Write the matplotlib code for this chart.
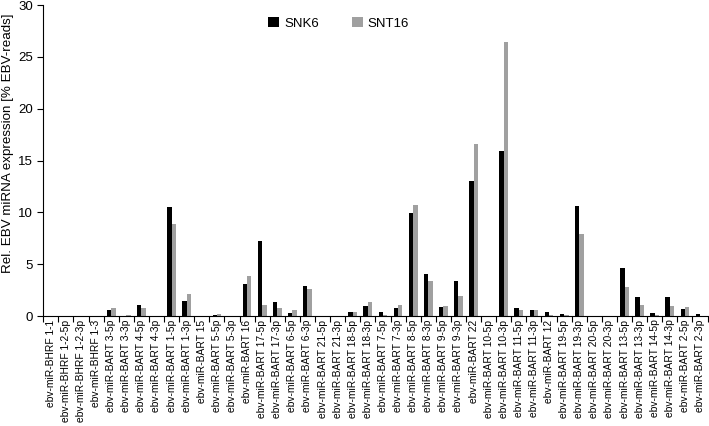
import matplotlib.pyplot as plt
import numpy as np

plt.rcParams['font.family'] = ['Liberation Sans', 'DejaVu Sans']

# miRNA names (x categories)
mirnas = ["BHRF 1-1", "BHRF 1-2-5p", "BHRF 1-2-3p", "BHRF 1-3",
          "BART 3-5p", "BART 3-3p", "BART 4-5p", "BART 4-3p",
          "BART 1-5p", "BART 1-3p", "BART 15", "BART 5-5p", "BART 5-3p",
          "BART 16", "BART 17-5p", "BART 17-3p", "BART 6-5p", "BART 6-3p",
          "BART 21-5p", "BART 21-3p", "BART 18-5p", "BART 18-3p",
          "BART 7-5p", "BART 7-3p", "BART 8-5p", "BART 8-3p",
          "BART 9-5p", "BART 9-3p", "BART 22", "BART 10-5p", "BART 10-3p",
          "BART 11-5p", "BART 11-3p", "BART 12", "BART 19-5p", "BART 19-3p",
          "BART 20-5p", "BART 20-3p", "BART 13-5p", "BART 13-3p",
          "BART 14-5p", "BART 14-3p", "BART 2-5p", "BART 2-3p"]
labels = ["ebv-miR-" + m for m in mirnas]

snk6 = [0, 0, 0, 0,
        0.58, 0, 1.03, 0.05,
        10.5, 1.5, 0, 0.1, 0,
        3.1, 7.2, 1.35, 0.32, 2.9,
        0.05, 0, 0.4, 0.96,
        0.42, 0.77, 9.9, 4.05,
        0.87, 3.4, 13.0, 0, 15.95,
        0.77, 0.55, 0.42, 0.25, 10.6,
        0, 0, 4.6, 1.8,
        0.32, 1.8, 0.67, 0.19]
snt16 = [0, 0, 0, 0,
         0.8, 0.1, 0.74, 0,
         8.9, 2.15, 0, 0.2, 0,
         3.9, 1.1, 0.74, 0.55, 2.65,
         0.03, 0, 0.42, 1.35,
         0.1, 1.1, 10.7, 3.43,
         0.93, 1.9, 16.6, 0, 26.4,
         0.55, 0.55, 0.1, 0.12, 7.9,
         0, 0, 2.85, 1.1,
         0.08, 0.96, 0.83, 0.05]

x = np.arange(len(labels))
w = 0.29

fig = plt.figure(figsize=(7.09, 4.26), dpi=100)
ax = fig.add_axes([0.061, 0.258, 0.937, 0.73])

ax.bar(x - w / 2, snk6, w, color='black', label='SNK6')
ax.bar(x + w / 2, snt16, w, color='#a0a0a0', label='SNT16')

ax.set_xlim(-0.5, len(labels) - 0.5)
ax.set_ylim(0, 30)
ax.set_yticks(np.arange(0, 31, 5))
# y label sits a bit above the axes centre in the original
fig.text(8 / 709, 1 - 143 / 426, 'Rel. EBV miRNA expression [% EBV-reads]',
         rotation=90, ha='center', va='center', fontsize=9.6)

# labels at centres, tick marks at category boundaries
ax.set_xticks(x)
ax.set_xticklabels(labels, rotation=90, fontsize=7.4)
ax.tick_params(axis='x', length=0, pad=2.5)
ax.set_xticks(np.arange(-0.5, len(labels)), minor=True)
ax.tick_params(axis='x', which='minor', length=4, width=0.8)
ax.tick_params(axis='y', labelsize=9.5, length=4, width=0.8)

for s in ['top', 'right']:
    ax.spines[s].set_visible(False)
for s in ['left', 'bottom']:
    ax.spines[s].set_linewidth(0.8)

ax.legend(loc='upper center', bbox_to_anchor=(0.445, 1.0), ncol=2, frameon=False,
          fontsize=9.5, handlelength=0.8, handleheight=0.8, handletextpad=0.4,
          columnspacing=2.5)

fig.savefig('out.png', dpi=100)
